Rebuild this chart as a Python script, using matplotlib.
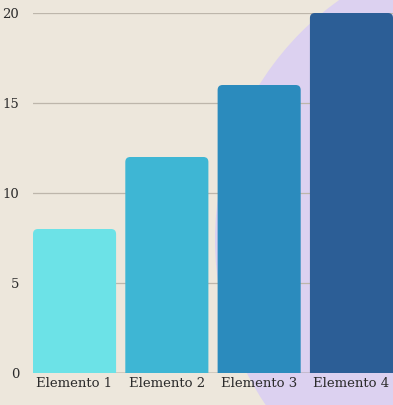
import matplotlib
matplotlib.use("Agg")
import matplotlib.pyplot as plt
from matplotlib.patches import FancyBboxPatch, Circle

categories = ["Elemento 1", "Elemento 2", "Elemento 3", "Elemento 4"]
values = [8, 12, 16, 20]
colors = ["#6ce2e7", "#3eb6d4", "#2b8bbd", "#2c5e96"]
yticks = [0, 5, 10, 15, 20]

W, H = 393, 405
fig = plt.figure(figsize=(W / 100, H / 100), dpi=100)
fig.patch.set_facecolor("#ede7dc")

# background layer in pixel units, with a lavender disc at lower right
bg = fig.add_axes([0, 0, 1, 1], zorder=-1)
bg.set_xlim(0, W)
bg.set_ylim(H, 0)
bg.axis("off")
bg.add_patch(Circle((509, 240), 294, facecolor="#dcd1f0", edgecolor="none"))

ax = fig.add_axes([33 / W, 32 / H, 1 - 33 / W, (373 - 13) / H])
ax.patch.set_alpha(0)
ax.set_xlim(-0.45, len(categories) - 0.55)
ax.set_ylim(0, 20)

bars = ax.bar(range(len(categories)), values, width=0.9, color=colors, zorder=3)

# swap plain bars for ones with rounded top corners
px_x = ax.bbox.width / (ax.get_xlim()[1] - ax.get_xlim()[0])
px_y = ax.bbox.height / (ax.get_ylim()[1] - ax.get_ylim()[0])
r = 5 / px_x
for b in bars:
    b.set_visible(False)
    p = FancyBboxPatch((b.get_x(), b.get_y() - 1), b.get_width(), b.get_height() + 1,
                       boxstyle=f"round,pad=0,rounding_size={r}",
                       mutation_aspect=px_x / px_y, facecolor=b.get_facecolor(),
                       edgecolor="none", zorder=3, clip_on=True)
    ax.add_patch(p)

ax.set_yticks(yticks)
ax.set_xticks(range(len(categories)))
ax.set_xticklabels(categories)
ax.grid(axis="y", color="#bdb6ab", linewidth=0.9, zorder=1)
ax.axhline(0, color="#7a746c", linewidth=1.0, zorder=2)
for s in ax.spines.values():
    s.set_visible(False)
ax.tick_params(axis="both", length=0, labelsize=9.5, labelcolor="#2b2b2b")
ax.tick_params(axis="y", pad=10)
ax.tick_params(axis="x", pad=3)
for t in ax.get_xticklabels() + ax.get_yticklabels():
    t.set_fontfamily("DejaVu Serif")

fig.savefig("out.png", dpi=100, facecolor=fig.get_facecolor())
